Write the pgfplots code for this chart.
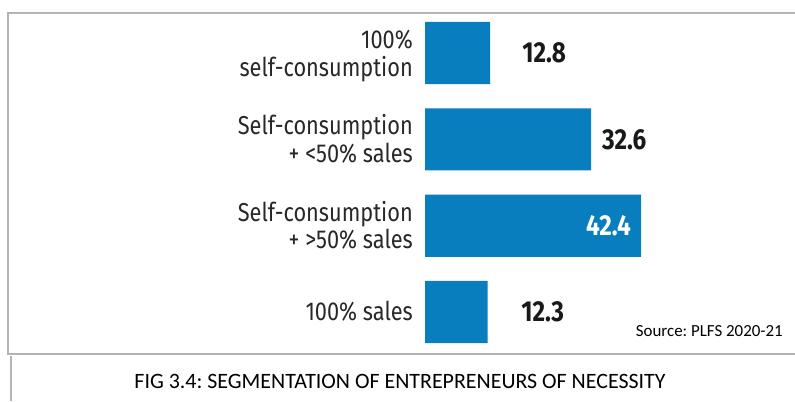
\documentclass[border=0pt]{standalone}
\usepackage{pgfplots}
\pgfplotsset{compat=1.18}
\usepackage{fontspec}
\setmainfont{Carlito}
\newfontfamily\labfont{Fira Sans}[FakeStretch=0.84]
\definecolor{barblue}{RGB}{8,126,190}
\definecolor{framegray}{RGB}{180,180,180}
\definecolor{labgray}{RGB}{40,40,40}
\definecolor{valdark}{RGB}{25,25,25}
\frenchspacing
\newcommand\lab[2]{\raisebox{4.5bp}{\begin{tabular}[t]{@{}r@{}}#1\\#2\end{tabular}}}
\begin{document}
\begin{tikzpicture}[x=1bp,y=1bp]
\useasboundingbox (0,0) rectangle (795,401);
\draw[framegray, line width=2bp] (6.5,388) -- (795,388);
\draw[framegray, line width=2bp] (7.5,389) -- (7.5,46);
\draw[framegray, line width=2bp] (6.5,47) -- (795,47);
\draw[framegray, line width=2bp] (10.5,45) -- (10.5,0);
\node[anchor=base, inner sep=0pt, font=\fontsize{22}{26}\selectfont, text=black] at (400,13) {FIG 3.4: SEGMENTATION OF ENTREPRENEURS OF NECESSITY};
\node[anchor=base east, inner sep=0pt, font=\fontsize{17}{20}\selectfont, text=black] at (783,65) {Source: PLFS 2020-21};
\begin{axis}[
  at={(425bp,37.2bp)}, anchor=south west,
  scale only axis, width=366.8bp, height=362.6bp,
  xmin=0, xmax=72, ymin=-0.6, ymax=3.6, y dir=reverse,
  axis line style={draw=none}, xtick=\empty,
  ytick={0,1,2,3}, major tick length=0pt,
  yticklabels={{\lab{100\%}{self-consumption}},{\lab{Self-consumption}{+ <50\% sales}},{\lab{Self-consumption}{+ >50\% sales}},{\raisebox{-8.5bp}{100\% sales}}},
  yticklabel style={anchor=base east, inner sep=0pt, xshift=-12bp, font=\labfont\fontsize{26}{27.5}\selectfont, text=labgray},
  clip=false,
]
\addplot[xbar, bar width=0.72, fill=barblue, draw=none, bar shift=0pt] coordinates {(12.8,0) (32.6,1) (42.4,2) (12.3,3)};
\addplot[only marks, mark=none, nodes near coords, point meta=explicit symbolic,
  nodes near coords style={anchor=center, inner sep=0pt, font=\labfont\bfseries\fontsize{29}{32}\selectfont, text=valdark}]
  coordinates {(23.4,0) [12.8] (39.1,1) [32.6] (23.1,3) [12.3]};
\addplot[only marks, mark=none, nodes near coords, point meta=explicit symbolic,
  nodes near coords style={anchor=center, inner sep=0pt, font=\labfont\bfseries\fontsize{29}{32}\selectfont, text=white}]
  coordinates {(36.0,2) [42.4]};
\end{axis}
\end{tikzpicture}
\end{document}
